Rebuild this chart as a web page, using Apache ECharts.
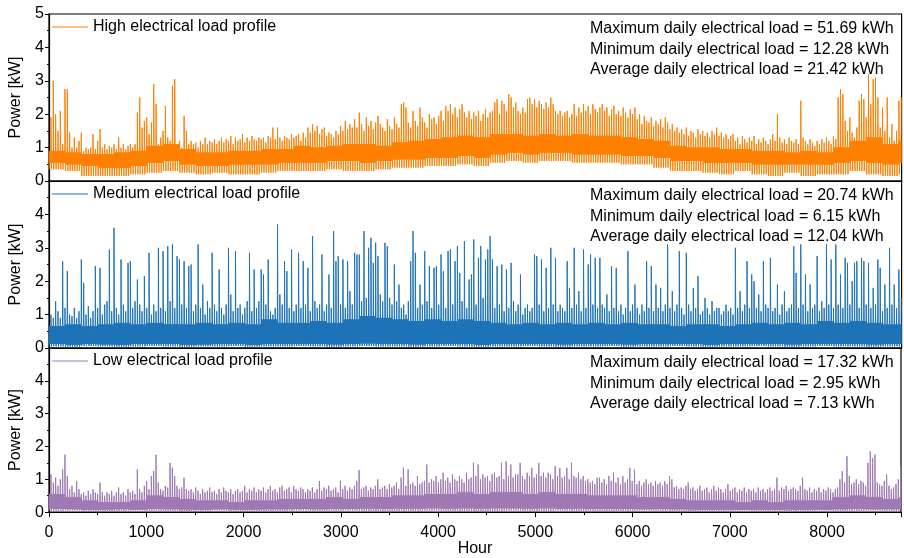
<!DOCTYPE html>
<html><head><meta charset="utf-8">
<script src="https://cdn.jsdelivr.net/npm/echarts@6/dist/echarts.min.js"></script>
<style>html,body{margin:0;padding:0;background:#fff}#c{width:904px;height:558px}</style>
</head><body><div id="c"></div>
<script>
// ---------- DATA ----------
const profileNames = ['High electrical load profile', 'Medium electrical load profile', 'Low electrical load profile'];
const profileColors = ['#ff8000', '#1f74b8', '#a07ab4'];
const annHigh = ['Maximum daily electrical load = 51.69 kWh', 'Minimum daily electrical load = 12.28 kWh', 'Average daily electrical load = 21.42 kWh'];
const annMedium = ['Maximum daily electrical load = 20.74 kWh', 'Minimum daily electrical load = 6.15 kWh', 'Average daily electrical load = 12.04 kWh'];
const annLow = ['Maximum daily electrical load = 17.32 kWh', 'Minimum daily electrical load = 2.95 kWh', 'Average daily electrical load = 7.13 kWh'];

// daily peak power [kW], day 0..364
const highPeaks = [
1.9,3.0,2.0,1.5,2.1,1.1,2.75,2.75,1.45,1.0,
1.3,1.0,1.2,1.45,0.9,1.0,0.95,1.0,1.4,0.95,
1.2,1.55,1.0,1.1,0.95,1.05,1.0,1.1,0.95,1.3,
1.0,1.1,0.95,1.05,1.1,1.0,1.1,2.05,2.5,1.6,
1.8,1.9,1.4,1.75,2.9,2.3,1.1,1.3,1.5,2.25,
1.3,1.2,2.85,3.05,1.1,1.2,1.0,1.95,1.5,1.1,
1.2,1.1,1.15,1.0,1.2,1.1,1.3,1.1,1.2,1.15,
1.25,1.1,1.2,1.3,1.15,1.25,1.2,1.35,1.1,1.3,
1.2,1.25,1.4,1.15,1.3,1.2,1.35,1.25,1.2,1.3,
1.25,1.3,1.15,1.35,1.3,1.6,1.25,1.6,1.3,1.2,
1.35,1.3,1.25,1.4,1.3,1.35,1.4,1.2,1.45,1.3,
1.6,1.45,1.7,1.5,1.65,1.4,1.55,1.6,1.35,1.45,
1.4,1.3,1.5,1.4,1.65,1.5,1.8,1.55,1.7,1.6,
1.85,1.6,2.05,1.7,1.5,1.9,1.65,1.8,1.55,1.75,
1.95,1.7,1.6,1.5,1.85,1.65,1.55,1.9,1.7,1.6,
2.3,2.35,2.2,1.75,1.6,2.1,1.8,1.65,2.2,1.9,
1.75,1.6,2.0,1.85,1.9,1.7,1.95,2.1,1.8,2.25,
2.1,2.3,2.0,2.2,1.9,2.15,2.3,2.05,1.9,2.1,
1.85,2.05,1.95,2.1,1.8,2.0,2.15,1.9,2.05,2.1,
2.35,2.45,2.0,2.4,2.3,2.1,2.6,2.5,2.2,2.35,
2.1,2.0,2.2,2.05,2.45,2.5,2.3,2.45,2.2,2.4,
2.3,2.15,2.35,2.2,2.5,2.3,2.1,2.0,2.1,1.95,
2.05,2.1,1.9,2.0,2.3,1.95,2.2,2.05,2.3,2.1,
2.25,2.0,2.3,2.15,2.05,2.2,2.3,2.1,2.2,1.95,
2.15,2.25,2.0,2.1,1.95,2.2,2.05,1.9,2.15,2.0,
2.2,1.85,2.0,1.7,1.95,1.8,1.75,1.9,1.65,1.8,
1.7,1.85,1.6,1.9,1.75,1.55,1.7,1.5,1.6,1.45,
1.55,1.4,1.6,1.35,1.5,1.45,1.3,1.55,1.4,1.5,
1.35,1.45,1.3,1.5,1.4,1.6,1.35,1.45,1.3,1.4,
1.25,1.35,1.4,1.2,1.3,1.1,1.35,1.25,1.15,1.3,
1.2,1.35,1.1,1.25,1.15,1.3,1.2,1.1,1.25,1.4,
1.2,2.0,1.3,1.15,1.25,1.1,1.3,1.2,1.15,1.25,
1.1,2.4,1.3,1.2,1.1,1.25,1.15,1.05,1.2,1.1,
1.25,1.15,1.3,1.2,1.1,1.35,1.25,2.5,2.75,2.6,
1.8,1.5,1.9,1.45,1.3,1.6,2.4,2.6,2.45,1.9,
3.2,2.3,3.05,3.1,2.5,1.6,2.2,1.5,2.5,1.3,
1.7,1.2,1.5,2.4,2.5];
// weekly top of the dense band [kW], week 0..52
const highBandTop = [0.9,0.85, 0.8,0.8,0.85,0.9, 1.05,1.1, 0.95,0.85,0.85,0.9,0.9,0.95,0.95,
1.05,1.0,1.05,1.1,1.1,1.05,1.15, 1.2,1.25,1.3,1.35,1.3, 1.4,1.4,1.35,1.4,1.35,1.4,1.35,
1.35,1.3,1.25,1.2, 1.05,1.0,1.0,0.95,0.95,0.9,0.9,0.85,0.9,0.85, 1.0,1.2,1.3,1.1,1.2];
// weekly bottom of the dense band [kW]
const highBandFloor = [0.55,0.5, 0.45,0.4,0.4,0.45, 0.55,0.6, 0.5,0.45,0.45,0.5,0.5,0.5,0.55,
0.55,0.55,0.6,0.6,0.55,0.6,0.65, 0.65,0.7,0.7,0.75,0.7, 0.8,0.85,0.8,0.85,0.85,0.8,0.8,
0.8,0.75,0.75,0.7, 0.6,0.6,0.55,0.55,0.55,0.5,0.5,0.5,0.5,0.5, 0.55,0.6,0.55,0.5,0.55];
// weekly night-time minimum [kW]
const highDips = [0.35,0.3, 0.15,0.15,0.15,0.2, 0.25,0.3, 0.25,0.2,0.25,0.2,0.2,0.25,0.3,
0.3,0.3,0.35,0.3,0.3,0.35,0.4, 0.4,0.45,0.45,0.5,0.45, 0.55,0.6,0.55,0.6,0.6,0.55,0.55,
0.55,0.5,0.5,0.4, 0.3,0.3,0.25,0.2,0.3,0.2,0.15,0.25,0.15,0.2, 0.2,0.3,0.2,0.15,0.2];

const mediumPeaks = [
1.0,0.9,1.4,1.1,0.9,2.6,1.2,2.3,1.0,0.95,
1.2,0.9,1.1,2.65,1.95,1.0,1.25,0.9,1.1,2.45,
1.2,2.4,1.0,1.3,1.4,2.95,1.1,3.6,1.2,1.0,
2.65,1.3,1.1,2.55,2.6,1.2,1.4,2.05,1.3,1.1,
2.15,1.2,2.85,1.0,1.3,1.1,3.0,1.2,2.9,1.1,
3.05,1.4,3.1,1.2,2.75,2.65,1.3,2.6,1.2,2.45,
2.5,1.1,1.3,3.1,1.2,1.9,1.0,1.4,1.2,2.85,
1.3,1.1,2.35,1.2,1.0,1.3,3.0,1.6,1.1,2.9,
1.2,1.3,1.0,1.2,1.4,2.85,1.1,2.35,1.2,1.4,
2.35,2.2,1.3,2.65,1.1,1.0,1.2,3.7,1.6,1.3,
2.6,2.3,1.2,2.95,1.1,1.3,2.85,1.2,2.6,1.3,
2.4,1.1,3.35,1.4,1.2,1.3,2.8,1.1,1.3,2.2,
1.2,3.5,2.6,2.75,1.3,2.65,1.2,2.6,1.7,1.3,
2.85,2.8,2.8,1.4,3.5,1.5,3.0,3.3,2.55,3.15,
2.75,1.6,1.4,3.15,3.05,1.5,1.3,2.5,1.4,1.9,
1.2,1.3,1.0,1.4,2.6,3.5,2.85,1.2,1.9,1.3,
2.9,1.4,2.45,1.2,2.4,2.45,1.3,2.8,2.3,1.2,
2.9,2.95,1.3,2.6,3.05,2.25,1.4,3.2,1.2,2.05,
2.2,3.25,1.3,2.7,3.05,1.5,2.65,2.95,3.35,2.65,
1.2,2.45,1.3,2.5,1.1,2.35,1.2,2.55,1.4,1.1,
1.3,2.2,1.0,1.2,1.3,1.1,1.2,2.8,2.75,1.3,
2.65,1.1,2.4,1.2,3.0,1.3,2.7,1.1,1.3,1.2,
1.1,2.6,1.8,1.2,3.0,1.3,1.7,1.1,2.95,1.2,
2.5,2.8,1.3,2.7,1.2,2.7,1.3,1.2,1.6,1.1,
2.45,1.2,2.4,1.1,1.3,1.0,1.2,2.9,1.1,1.3,
1.9,1.2,1.0,1.3,1.1,2.6,1.2,2.45,1.1,1.9,
1.2,1.8,1.1,1.3,3.1,1.2,1.7,1.1,1.3,2.9,
1.2,1.0,2.85,1.3,1.1,1.8,1.2,2.15,1.0,1.1,
1.5,1.2,1.0,1.4,1.1,1.2,1.2,1.0,1.1,1.3,
1.1,1.2,1.0,3.0,1.2,1.7,1.1,1.3,2.6,1.2,
2.2,2.0,1.2,1.6,1.1,2.6,1.3,1.2,2.7,1.1,
1.2,1.9,1.0,1.3,1.7,1.1,1.2,1.3,3.05,2.25,
1.2,3.1,1.3,2.2,1.1,1.9,1.2,1.3,2.75,1.1,
1.4,1.2,3.1,1.3,2.65,1.2,3.1,1.3,2.2,1.2,
2.7,2.55,1.3,2.0,2.55,2.6,1.2,2.7,2.6,1.3,
2.55,1.2,1.8,1.3,2.65,2.4,1.1,1.9,1.2,3.0,
1.3,1.9,1.2,2.35,1.5];
const mediumBandTop = [0.65,0.7,0.65,0.7,0.75,0.7,0.75,0.7,0.7,0.75,0.7,0.75,0.7,0.85,0.75,
0.75,0.8,0.75,0.85,0.95,0.9,0.85,
0.8,0.85,0.8,0.85,0.8,0.75,0.7,0.75,0.7,0.75,0.7,0.75,
0.7,0.75,0.7,0.7,0.65,0.7,0.7,0.65,0.7,0.75,0.7,0.75,0.7,0.8,0.75,0.8,0.75,0.7,0.7];
const mediumBandFloor = [0.12,0.1,0.12,0.11,0.1,0.12,0.13,0.12,0.1,0.11,0.12,0.13,0.1,0.12,0.12,
0.13,0.12,0.11,0.12,0.14,0.13,0.12,0.11,0.12,0.13,0.12,0.1,0.12,0.12,0.13,0.12,0.11,0.12,
0.12,0.13,0.11,0.12,0.12,0.13,0.12,0.1,0.12,0.12,0.13,0.12,0.11,0.12,0.13,0.12,0.12,0.11,0.12,0.12];
const mediumDips = [0.05,0.04,0.06,0.05,0.04,0.05,0.06,0.05,0.04,0.05,0.05,0.06,0.04,0.05,0.05,
0.06,0.05,0.04,0.05,0.06,0.05,0.05,0.04,0.05,0.06,0.05,0.04,0.05,0.05,0.06,0.05,0.04,0.05,
0.05,0.06,0.04,0.05,0.05,0.06,0.05,0.04,0.05,0.05,0.06,0.05,0.04,0.05,0.06,0.05,0.05,0.04,0.05,0.05];

const lowPeaks = [
1.15,0.9,1.05,0.8,1.0,1.3,1.75,1.1,0.7,0.8,
0.6,0.95,0.7,0.55,0.6,0.5,0.65,0.55,0.7,0.6,
0.55,0.9,0.6,0.5,0.6,0.55,0.65,0.5,0.6,0.75,
0.55,0.6,0.5,0.7,0.6,0.65,0.55,1.3,0.7,0.6,
0.8,0.95,0.7,1.1,1.25,1.75,0.9,0.7,0.65,0.8,
0.75,1.5,1.35,1.1,0.8,0.7,0.75,1.05,0.7,0.65,
0.7,0.6,0.75,0.65,0.55,0.7,0.6,0.65,0.75,0.6,
0.65,0.55,0.7,0.6,0.75,0.65,0.6,0.7,0.55,0.65,
0.7,0.6,0.65,0.8,0.6,0.7,0.65,0.75,0.6,0.7,
0.65,0.75,0.6,0.7,0.8,0.65,0.7,0.6,0.75,0.8,
0.65,0.7,0.75,0.6,0.8,0.7,0.65,0.75,0.7,0.6,
0.7,0.65,0.75,0.6,0.7,0.95,0.65,0.75,0.7,0.8,
0.65,0.7,0.75,0.6,0.95,0.7,0.8,0.65,0.75,0.7,
0.8,0.95,1.28,0.7,0.75,0.8,0.65,0.75,0.7,0.8,
1.0,0.7,0.75,0.8,0.7,0.85,0.75,0.8,0.9,0.7,
1.05,1.35,0.8,1.3,0.85,0.9,0.8,1.1,0.85,0.9,
0.95,1.45,0.9,1.0,0.95,1.1,0.9,1.0,1.2,0.95,
1.05,0.9,1.15,1.0,0.95,1.1,1.0,0.9,1.2,1.0,
1.05,1.5,1.1,1.45,1.0,1.15,1.05,1.1,0.95,1.15,
1.2,1.05,1.1,1.5,1.0,1.55,1.1,1.45,1.05,1.15,
1.15,1.5,1.1,1.0,1.2,1.1,1.35,1.05,1.15,1.5,
1.1,1.2,1.05,1.2,1.15,1.0,1.4,1.1,1.35,1.05,
1.1,1.35,1.0,1.5,1.1,1.05,1.2,1.0,1.1,0.95,
1.0,0.9,0.95,0.85,1.05,1.05,0.9,1.0,0.85,1.1,
0.95,1.2,0.9,1.05,0.85,1.1,0.9,1.0,1.35,0.95,
1.3,0.85,0.95,0.8,0.9,1.0,0.85,0.9,0.8,0.95,
0.85,0.9,0.8,0.95,0.85,1.1,1.0,0.75,0.8,0.7,
0.75,0.7,0.8,0.9,0.7,0.75,0.65,0.7,0.8,0.65,
0.7,0.75,0.6,0.7,0.8,0.65,0.75,0.7,0.6,0.7,
0.85,0.65,0.7,0.75,0.6,0.7,0.65,0.75,0.6,0.7,
0.65,0.7,0.6,0.75,0.65,0.7,0.6,0.7,0.75,0.65,
0.7,1.05,0.65,0.75,0.7,0.8,0.65,0.7,0.75,0.7,
0.65,0.8,1.05,0.7,0.65,0.75,0.6,0.7,0.65,0.75,
0.6,0.7,0.65,0.75,0.7,0.6,0.7,0.75,1.0,1.25,
0.9,1.7,1.1,0.85,0.9,1.0,0.85,0.95,0.9,0.8,
1.5,1.85,1.65,1.75,0.9,0.85,0.8,0.95,1.15,0.8,
0.7,0.75,0.85,1.0,1.4];
const lowBandTop = [0.55,0.45, 0.35,0.3,0.3,0.35, 0.5,0.45,0.4, 0.35,0.35,0.3,0.35,0.35,0.4,
0.4,0.4,0.45,0.4,0.45,0.45,0.5, 0.5,0.55,0.55,0.6,0.55,0.6,0.6,0.55,0.6,0.55,0.55,0.5,
0.5,0.5,0.45,0.45, 0.4,0.35,0.35,0.35,0.3,0.35,0.3,0.35,0.35,0.35, 0.45,0.5,0.45,0.4,0.45];
const lowBandFloor = [0.1,0.09,0.08,0.08,0.09,0.08,0.1,0.09,0.08,0.08,0.09,0.08,0.08,0.09,0.09,
0.1,0.09,0.1,0.1,0.11,0.1,0.11,0.11,0.12,0.11,0.12,0.11,0.12,0.12,0.11,0.12,0.11,0.11,0.1,
0.1,0.1,0.09,0.1,0.09,0.08,0.08,0.08,0.07,0.08,0.07,0.08,0.08,0.08,0.09,0.1,0.09,0.09,0.1];
const lowDips = [0.04,0.05,0.04,0.03,0.04,0.05,0.04,0.04,0.03,0.04,0.05,0.04,0.04,0.03,0.04,
0.05,0.04,0.04,0.05,0.04,0.03,0.04,0.04,0.05,0.04,0.04,0.03,0.04,0.05,0.04,0.04,0.05,0.04,
0.04,0.03,0.04,0.05,0.04,0.04,0.03,0.04,0.04,0.05,0.04,0.04,0.03,0.04,0.05,0.04,0.04,0.05,0.04,0.04];

// ---------- BUILD ----------
function build(peaks, tops, floors, dips) {
  const out = [];
  for (let d = 0; d < peaks.length; d++) {
    const w = Math.min(Math.floor(d / 7), tops.length - 1);
    const h = d * 24;
    const t = Math.min(tops[w], peaks[d]);
    const f = floors[w], m = dips[w];
    out.push([h + 1, m], [h + 4, t], [h + 7, f], [h + 10, t], [h + 13, f], [h + 16, t], [h + 18, f], [h + 20, peaks[d]]);
  }
  return out;
}
const allData = [build(highPeaks, highBandTop, highBandFloor, highDips),
                 build(mediumPeaks, mediumBandTop, mediumBandFloor, mediumDips),
                 build(lowPeaks, lowBandTop, lowBandFloor, lowDips)];
const annotations = [annHigh, annMedium, annLow];

const FONT = '"Liberation Sans", Arial, sans-serif';
const gridTops = [14, 181, 348];
const gridH = 167;

const chart = echarts.init(document.getElementById('c'), null, {renderer: 'canvas'});
const graphics = [];
annotations.forEach((lines, i) => {
  lines.forEach((t, j) => {
    graphics.push({type: 'text', x: 590, y: gridTops[i] + 15 + j * 20.5,
      style: {text: t, font: '16px ' + FONT, fill: '#000', verticalAlign: 'middle', align: 'left'}, z: 100});
  });
});

chart.setOption({
  animation: false,
  backgroundColor: '#fff',
  grid: gridTops.map(t => ({left: 49, width: 852.6, top: t, height: gridH, show: true,
    borderColor: '#000', borderWidth: 1.2, backgroundColor: 'transparent', containLabel: false})),
  legend: profileNames.map((n, i) => ({data: [{name: n, icon: 'rect'}], left: 52, top: gridTops[i] + 5, padding: 0,
    itemWidth: 36, itemHeight: 1, itemGap: 0,
    textStyle: {fontSize: 16, fontFamily: FONT, color: '#000'}})),
  xAxis: [0, 1, 2].map(i => ({
    type: 'value', gridIndex: i, min: 0, max: 8760, interval: 1000,
    axisLine: {show: true, onZero: false, lineStyle: {color: '#000', width: 1.2}},
    axisTick: {show: i === 2, length: 5, lineStyle: {color: '#000'}},
    minorTick: {show: i === 2, splitNumber: 2, length: 3, lineStyle: {color: '#000'}},
    axisLabel: {show: i === 2, fontSize: 16, fontFamily: FONT, color: '#000', margin: 12,
      formatter: v => (v % 1000 === 0 ? String(v) : '')},
    splitLine: {show: false},
    name: i === 2 ? 'Hour' : '', nameLocation: 'middle', nameGap: 28,
    nameTextStyle: {fontSize: 16, fontFamily: FONT, color: '#000'}
  })),
  yAxis: [0, 1, 2].map(i => ({
    type: 'value', gridIndex: i, min: 0, max: 5, interval: 1,
    axisLine: {show: true, lineStyle: {color: '#000', width: 1.2}},
    axisTick: {show: true, length: 4, lineStyle: {color: '#000'}},
    minorTick: {show: true, splitNumber: 2, length: 2, lineStyle: {color: '#000'}},
    axisLabel: {fontSize: 16, fontFamily: FONT, color: '#000', margin: 5,
      formatter: v => (i > 0 && v === 5 ? '' : String(v))},
    splitLine: {show: false},
    name: 'Power [kW]', nameLocation: 'middle', nameGap: 25,
    nameTextStyle: {fontSize: 16, fontFamily: FONT, color: '#000'}
  })),
  series: profileNames.map((n, i) => ({
    name: n, type: 'line', xAxisIndex: i, yAxisIndex: i, data: allData[i],
    showSymbol: false, symbol: 'none', sampling: null,
    lineStyle: {color: profileColors[i], width: 1}, itemStyle: {color: profileColors[i]},
    emphasis: {disabled: true}
  })),
  graphic: graphics
});
</script></body></html>
